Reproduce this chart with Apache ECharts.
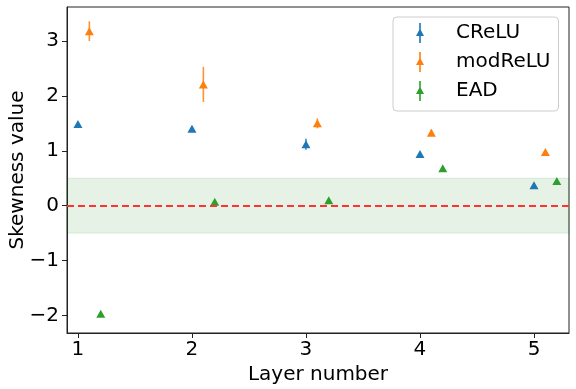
<!DOCTYPE html>
<html>
<head>
<meta charset="utf-8">
<script src="https://cdn.jsdelivr.net/npm/echarts@6/dist/echarts.min.js"></script>
<style>
  html, body { margin: 0; padding: 0; background: #fff; }
  #main { width: 576px; height: 389px; }
</style>
</head>
<body>
<div id="main"></div>
<script>
// layer positions (offset per model) and skewness values
const xCReLU = [1, 2, 3, 4, 5]
const yCReLU = [1.49, 1.40, 1.12, 0.94, 0.37]
const eCReLU = [0.03, 0.05, 0.10, 0.03, 0.02]

const xModReLU = [1.1, 2.1, 3.1, 4.1, 5.1]
const yModReLU = [3.18, 2.21, 1.50, 1.33, 0.98]
const eModReLU = [0.18, 0.32, 0.09, 0.06, 0.02]

const xEAD = [1.2, 2.2, 3.2, 4.2, 5.2]
const yEAD = [-1.97, 0.07, 0.10, 0.68, 0.45]
const eEAD = [0.02, 0.02, 0.02, 0.02, 0.02]

const xTicks = [1, 2, 3, 4, 5]
const yTicks = [-2, -1, 0, 1, 2, 3]

const colors = { CReLU: '#1f77b4', modReLU: '#ff7f0e', EAD: '#2ca02c' }
const font = 'DejaVu Sans'

// legend icon: vertical error bar with a triangle on it
const icon = 'path://M3.2,0 L4.8,0 L4.8,7 L8,13 L4.8,13 L4.8,20 L3.2,20 L3.2,13 L0,13 L3.2,7 Z'

function points(xs, ys) {
  return xs.map((x, i) => [x, ys[i]])
}
function bars(xs, ys, es) {
  return xs.map((x, i) => [x, ys[i] - es[i], ys[i] + es[i]])
}

function errorSeries(name, data) {
  return {
    name: name,
    type: 'custom',
    data: data,
    z: 3,
    encode: { x: 0, y: [1, 2] },
    renderItem: function (params, api) {
      const a = api.coord([api.value(0), api.value(1)])
      const b = api.coord([api.value(0), api.value(2)])
      return {
        type: 'line',
        shape: { x1: a[0], y1: a[1], x2: b[0], y2: b[1] },
        style: { stroke: colors[name], lineWidth: 1.6, opacity: 0.85 }
      }
    }
  }
}

function markerSeries(name, data) {
  return {
    name: name,
    type: 'scatter',
    data: data,
    z: 4,
    symbol: 'triangle',
    symbolSize: [9, 8],
    itemStyle: { color: colors[name], opacity: 1 }
  }
}

const chart = echarts.init(document.getElementById('main'), null, { renderer: 'canvas' })

chart.setOption({
  animation: false,
  textStyle: { fontFamily: font },
  grid: {
    left: 67, right: 7, top: 7, bottom: 56,
    outerBoundsMode: 'none',
    containLabel: false,
    show: true, borderColor: '#222', borderWidth: 1, backgroundColor: 'transparent'
  },
  legend: {
    orient: 'vertical',
    left: 393,
    top: 17,
    padding: [6, 8, 10, 23],
    itemWidth: 8,
    itemHeight: 20,
    itemGap: 9,
    borderColor: '#ccc',
    borderWidth: 1,
    borderRadius: 4,
    backgroundColor: 'rgba(255,255,255,0.8)',
    textStyle: { fontSize: 20, color: '#000', fontFamily: font, padding: [0, 0, 0, 27] },
    data: [
      { name: 'CReLU', icon: icon, itemStyle: { color: colors.CReLU } },
      { name: 'modReLU', icon: icon, itemStyle: { color: colors.modReLU } },
      { name: 'EAD', icon: icon, itemStyle: { color: colors.EAD } }
    ]
  },
  xAxis: {
    type: 'value',
    min: 0.904,
    max: 5.307,
    name: 'Layer number',
    nameLocation: 'middle',
    nameGap: 32,
    nameTextStyle: { fontSize: 20, color: '#000', fontFamily: font },
    splitLine: { show: false },
    axisLine: { show: true, onZero: false, lineStyle: { color: '#222', width: 1 } },
    axisTick: { show: true, length: 5, customValues: xTicks, lineStyle: { color: '#222' } },
    axisLabel: {
      customValues: xTicks, fontSize: 20, color: '#000', margin: 7, fontFamily: font,
      formatter: v => String(v)
    }
  },
  yAxis: {
    type: 'value',
    min: -2.32,
    max: 3.62,
    name: 'Skewness value',
    nameLocation: 'middle',
    nameGap: 39,
    nameMoveOverlap: false,
    nameRotate: 90,
    nameTextStyle: { fontSize: 20, color: '#000', fontFamily: font },
    splitLine: { show: false },
    axisLine: { show: true, onZero: false, lineStyle: { color: '#222', width: 1 } },
    axisTick: { show: true, length: 5, customValues: yTicks, lineStyle: { color: '#222' } },
    axisLabel: {
      customValues: yTicks, fontSize: 20, color: '#000', margin: 8, fontFamily: font,
      formatter: v => (v < 0 ? '\u2212' + Math.abs(v) : String(v))
    }
  },
  series: [
    {
      name: 'band',
      type: 'line',
      data: [],
      silent: true,
      markArea: {
        silent: true,
        itemStyle: { color: 'rgba(0,128,0,0.1)', borderColor: 'rgba(0,128,0,0.12)', borderWidth: 1 },
        data: [[{ yAxis: -0.5 }, { yAxis: 0.5 }]]
      },
      markLine: {
        silent: true,
        symbol: 'none',
        label: { show: false },
        lineStyle: { color: '#f33', type: [7, 4], width: 1.8 },
        data: [{ yAxis: 0 }]
      }
    },
    errorSeries('CReLU', bars(xCReLU, yCReLU, eCReLU)),
    markerSeries('CReLU', points(xCReLU, yCReLU)),
    errorSeries('modReLU', bars(xModReLU, yModReLU, eModReLU)),
    markerSeries('modReLU', points(xModReLU, yModReLU)),
    errorSeries('EAD', bars(xEAD, yEAD, eEAD)),
    markerSeries('EAD', points(xEAD, yEAD))
  ]
})
</script>
</body>
</html>
